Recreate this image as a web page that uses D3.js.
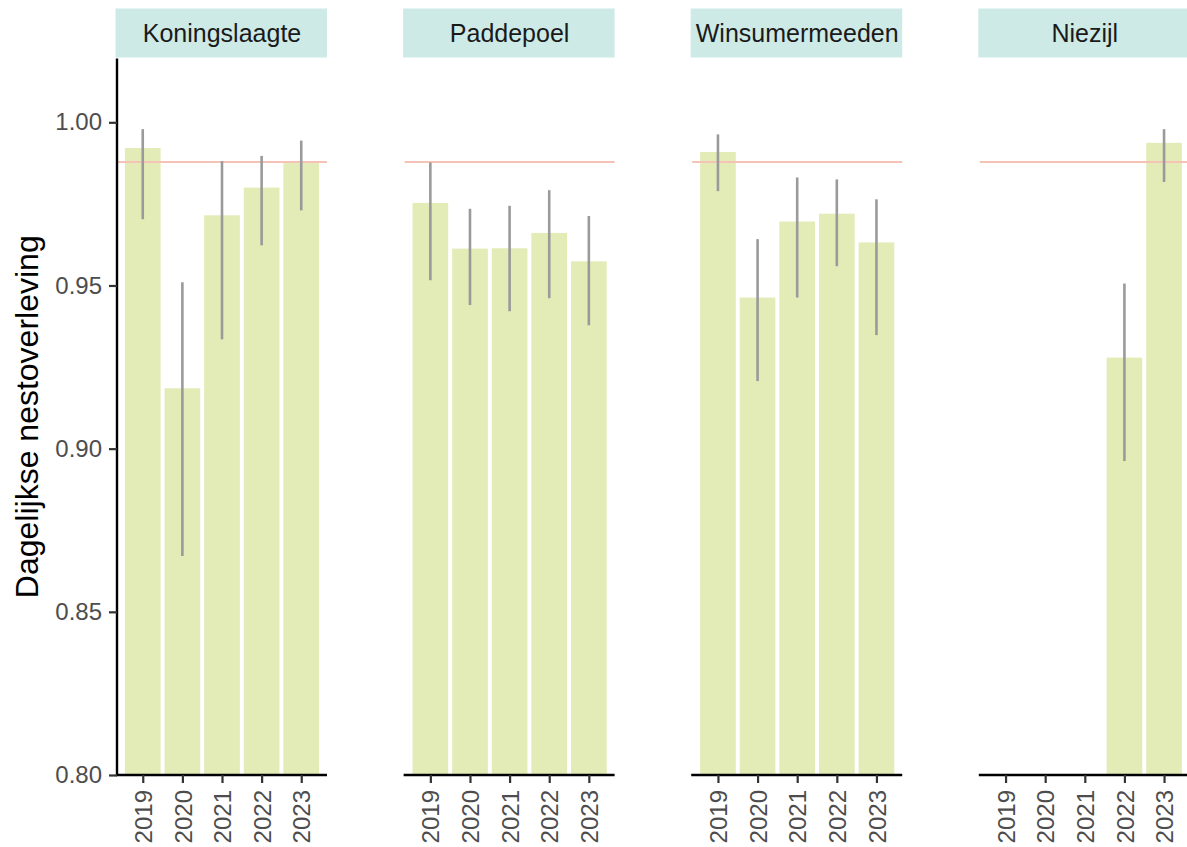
<!DOCTYPE html>
<html>
<head>
<meta charset="utf-8">
<script src="https://cdn.jsdelivr.net/npm/d3@7"></script>
<style>
  html, body { margin: 0; padding: 0; background: #fff; }
  svg text { font-family: "Liberation Sans", Arial, Helvetica, sans-serif; }
</style>
</head>
<body>
<svg id="chart" width="1187" height="847"></svg>
<script>
// Daily nest survival per site and year, with confidence intervals
const sites = ["Koningslaagte", "Paddepoel", "Winsumermeeden", "Niezijl"];
const years = ["2019", "2020", "2021", "2022", "2023"];

const survKoningslaagte   = [0.9921, 0.9185, 0.9715, 0.9800, 0.9875];
const lowerKoningslaagte  = [0.9703, 0.8671, 0.9335, 0.9623, 0.9730];
const upperKoningslaagte  = [0.9979, 0.9510, 0.9881, 0.9897, 0.9944];

const survPaddepoel   = [0.9753, 0.9613, 0.9614, 0.9661, 0.9574];
const lowerPaddepoel  = [0.9516, 0.9440, 0.9421, 0.9461, 0.9378];
const upperPaddepoel  = [0.9877, 0.9735, 0.9744, 0.9792, 0.9713];

const survWinsumermeeden  = [0.9909, 0.9463, 0.9696, 0.9720, 0.9632];
const lowerWinsumermeeden = [0.9789, 0.9207, 0.9463, 0.9559, 0.9348];
const upperWinsumermeeden = [0.9963, 0.9642, 0.9831, 0.9825, 0.9764];

const survNiezijl   = [null, null, null, 0.9279, 0.9937];
const lowerNiezijl  = [null, null, null, 0.8962, 0.9817];
const upperNiezijl  = [null, null, null, 0.9506, 0.9979];

const referenceLevel = 0.9878;
const yTicks = [0.80, 0.85, 0.90, 0.95, 1.00];
const yTitle = "Dagelijkse nestoverleving";

const siteSeries = {
  "Koningslaagte":  [survKoningslaagte, lowerKoningslaagte, upperKoningslaagte],
  "Paddepoel":      [survPaddepoel, lowerPaddepoel, upperPaddepoel],
  "Winsumermeeden": [survWinsumermeeden, lowerWinsumermeeden, upperWinsumermeeden],
  "Niezijl":        [survNiezijl, lowerNiezijl, upperNiezijl]
};

// ---- layout ----
const panelLeft0 = 117, panelStep = 287.6, panelW = 210;
const panelTop = 58.5, panelBottom = 775;
const stripTop = 8.5, stripH = 49;

const svg = d3.select("#chart");

const y = d3.scaleLinear().domain([0.80, 1.00]).range([panelBottom, 122.3]);
const x = d3.scaleLinear().domain([0.35, years.length + 0.65]).range([0, panelW]);
const barW = x(0.9) - x(0);

const colBar = "#e3ebb7", colStrip = "#cdeae7", colErr = "#9a9a9a",
      colRef = "#f5c3b6", colTickText = "#4d4d4d";

sites.forEach((site, si) => {
  const [vals, lo, hi] = siteSeries[site];
  const g = svg.append("g")
    .attr("transform", `translate(${panelLeft0 + si * panelStep},0)`);

  const rows = years.map((yr, i) => ({ yr, i: i + 1, v: vals[i], lo: lo[i], hi: hi[i] }))
    .filter(d => d.v != null);

  // bars
  g.selectAll("rect.bar").data(rows).enter().append("rect")
    .attr("class", "bar")
    .attr("x", d => x(d.i) - barW / 2)
    .attr("width", barW)
    .attr("y", d => y(d.v))
    .attr("height", d => panelBottom - y(d.v))
    .attr("fill", colBar);

  // reference line
  g.append("line")
    .attr("x1", 0).attr("x2", panelW)
    .attr("y1", y(referenceLevel)).attr("y2", y(referenceLevel))
    .attr("stroke", colRef).attr("stroke-width", 2);

  // error bars
  g.selectAll("line.err").data(rows).enter().append("line")
    .attr("class", "err")
    .attr("x1", d => x(d.i)).attr("x2", d => x(d.i))
    .attr("y1", d => y(d.lo)).attr("y2", d => y(d.hi))
    .attr("stroke", colErr).attr("stroke-width", 2.6);

  // strip
  g.append("rect")
    .attr("x", -1.5).attr("y", stripTop)
    .attr("width", panelW + 1.5).attr("height", stripH)
    .attr("fill", colStrip);
  g.append("text")
    .attr("x", panelW / 2).attr("y", stripTop + stripH / 2)
    .attr("text-anchor", "middle").attr("dominant-baseline", "central")
    .attr("font-size", 25).attr("fill", "#1a1a1a")
    .text(site);

  // x axis
  const xa = g.append("g").attr("transform", `translate(0,${panelBottom})`)
    .call(d3.axisBottom(x).tickValues(years.map((_, i) => i + 1))
      .tickFormat(i => years[i - 1]).tickSize(8).tickPadding(6));
  xa.select(".domain").attr("stroke", "#000").attr("stroke-width", 2.4)
    .attr("d", `M-1,0H${panelW}`);
  xa.selectAll(".tick line").attr("stroke", "#333").attr("stroke-width", 2.2);
  xa.selectAll(".tick text")
    .attr("font-size", 24).attr("fill", colTickText)
    .attr("transform", "rotate(-90)")
    .attr("text-anchor", "end").attr("dy", "0.36em")
    .attr("x", -15).attr("y", 0);

  // y axis only on the first panel
  if (si === 0) {
    const ya = g.append("g")
      .call(d3.axisLeft(y).tickValues(yTicks).tickFormat(d3.format(".2f"))
        .tickSize(8).tickPadding(7));
    ya.select(".domain").attr("stroke", "#000").attr("stroke-width", 2.4)
      .attr("d", `M0,${panelTop}V${panelBottom}`);
    ya.selectAll(".tick line").attr("stroke", "#333").attr("stroke-width", 2.2);
    ya.selectAll(".tick text").attr("font-size", 24).attr("fill", colTickText);
  }
});

svg.append("text")
  .attr("transform", `translate(38,${(panelTop + panelBottom) / 2}) rotate(-90)`)
  .attr("text-anchor", "middle")
  .attr("font-size", 32).attr("fill", "#000")
  .text(yTitle);
</script>
</body>
</html>
